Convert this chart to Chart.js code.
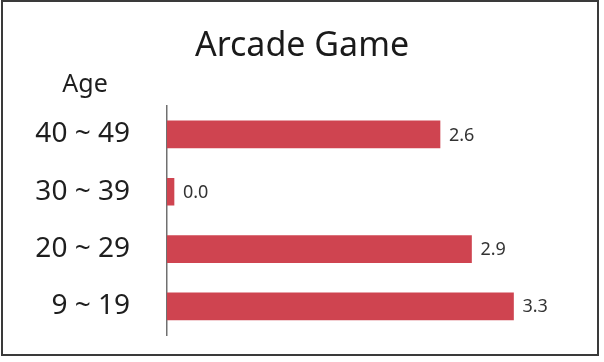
<!DOCTYPE html>
<html>
<head>
<meta charset="utf-8">
<script src="https://cdn.jsdelivr.net/npm/chart.js@4.4.1/dist/chart.umd.min.js"></script>
<style>
  body { margin: 0; background: #fff; }
  canvas { display: block; }
</style>
</head>
<body>
<canvas id="arcade" width="604" height="362"></canvas>
<script>
var ageGroups = ['40 ~ 49', '30 ~ 39', '20 ~ 29', '9 ~ 19'];
var scores = [2.6, 0.0, 2.9, 3.3];
var chartTitle = 'Arcade Game';
var axisName = 'Age';

// frame, the "Age" caption and the value next to each bar
var extras = {
  id: 'extras',
  afterDraw: function (chart) {
    var c = chart.ctx;
    var area = chart.chartArea;
    c.save();
    c.strokeStyle = '#3a3a3a';
    c.lineWidth = 2;
    c.strokeRect(2, 1, 596, 354);

    c.fillStyle = '#1e1e1e';
    c.font = '25px "Noto Sans"';
    c.textAlign = 'center';
    c.textBaseline = 'alphabetic';
    c.fillText(axisName, area.left - 82, 92);

    c.fillStyle = '#333';
    c.font = '18px "Noto Sans"';
    c.textAlign = 'left';
    c.textBaseline = 'middle';
    chart.getDatasetMeta(0).data.forEach(function (bar, i) {
      c.fillText(scores[i].toFixed(1), bar.x + 9, bar.y + 1);
    });
    c.restore();
  }
};

var ctx = document.getElementById('arcade').getContext('2d');
var chart = new Chart(ctx, {
  type: 'bar',
  data: {
    labels: ageGroups,
    datasets: [{
      data: scores,
      backgroundColor: '#cf4450',
      barThickness: 27,
      minBarLength: 7
    }]
  },
  options: {
    indexAxis: 'y',
    responsive: false,
    animation: false,
    layout: { padding: { left: 17, right: 17, top: 0, bottom: 27 } },
    plugins: {
      legend: { display: false },
      tooltip: { enabled: false },
      title: {
        display: true,
        text: chartTitle,
        color: '#1a1a1a',
        font: { family: 'Noto Sans', size: 34, weight: 'normal' },
        padding: { top: 26, bottom: 39 }
      }
    },
    scales: {
      x: { display: false, min: 0, max: 4 },
      y: {
        grid: { display: false, drawTicks: false, tickLength: 0 },
        border: { display: true, color: '#707070', width: 1.5 },
        ticks: {
          color: '#1e1e1e',
          font: { family: 'Noto Sans', size: 28 },
          padding: 37
        },
        afterFit: function (axis) {
          axis.width = 150;
          axis.paddingTop = 0;
          axis.paddingBottom = 0;
        }
      }
    }
  },
  plugins: [extras]
});
</script>
</body>
</html>
